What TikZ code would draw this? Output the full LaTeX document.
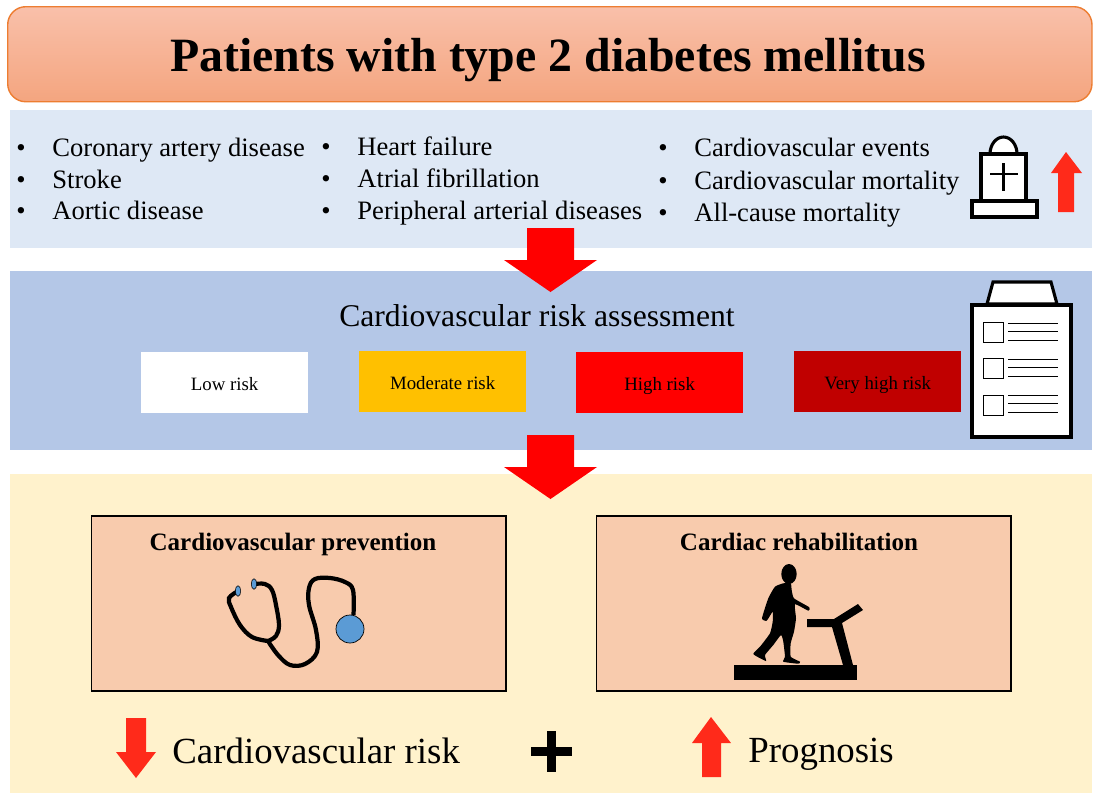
\documentclass[tikz,border=0pt]{standalone}
\usepackage{fontspec}
\setmainfont{Liberation Serif}
\usetikzlibrary{shadings}

\definecolor{titleedge}{HTML}{ED7D31}
\definecolor{titletop}{HTML}{F9C0AA}
\definecolor{titlebottom}{HTML}{F4A57F}
\definecolor{panelone}{HTML}{DEE8F5}
\definecolor{paneltwo}{HTML}{B4C7E7}
\definecolor{panelthree}{HTML}{FFF2CC}
\definecolor{boxpeach}{HTML}{F8CBAD}
\definecolor{arrowred}{HTML}{FF2A1A}
\definecolor{discblue}{HTML}{5B9BD5}
\definecolor{riskamber}{HTML}{FFC000}
\definecolor{riskdark}{HTML}{C00000}

\begin{document}
\begin{tikzpicture}[
            x = 0.025cm, y = -0.025cm, % one unit is one pixel of the reference
            semithick
        ]

        \tikzstyle{panel}=[anchor = north west, inner sep = 0pt]
        \tikzstyle{item}=[anchor = base west, inner sep = 0pt, font = \fontsize{18.9}{22}\selectfont]
        \tikzstyle{riskbox}=[anchor = north west, inner sep = 0pt, minimum width = 4.16cm,
            minimum height = 1.52cm, text height = 13pt, text depth = 2.4pt,
            font = \fontsize{13.4}{15}\selectfont]
        \tikzstyle{carebox}=[panel, draw = black, line width = 1.1pt, fill = boxpeach,
            minimum width = 10.37cm, minimum height = 4.38cm]
        \tikzstyle{caretitle}=[anchor = base, inner sep = 0pt, font = \fontsize{17.8}{20}\selectfont\bfseries]
        \tikzstyle{bigtext}=[anchor = base west, inner sep = 0pt, font = \fontsize{26.2}{30}\selectfont]
        \tikzstyle{blockred}=[fill = red, draw = none]
        \tikzstyle{smallred}=[fill = arrowred, draw = none]

        \useasboundingbox (0,0) rectangle (1100,798);

        % title
        \node[panel, draw = titleedge, line width = 1pt, rounded corners = 0.45cm,
            top color = titletop, bottom color = titlebottom,
            minimum width = 27.1cm, minimum height = 2.375cm] (title) at (7,6) {};
        \node[anchor = base, inner sep = 0pt, font = \fontsize{34}{38}\selectfont\bfseries] (titletext) at (548,71)
            {Patients with type 2 diabetes mellitus};

        % panels
        \node[panel, fill = panelone, minimum width = 27.025cm, minimum height = 3.45cm] (p1) at (10,110) {};
        \node[panel, fill = paneltwo, minimum width = 27.025cm, minimum height = 4.475cm] (p2) at (10,271) {};
        \node[panel, fill = panelthree, minimum width = 27.025cm, minimum height = 7.95cm] (p3) at (10,474) {};

        % first column
        \node[item] (b11) at (16,156) {•};
        \node[item] (b12) at (16,188) {•};
        \node[item] (b13) at (16,219) {•};
        \node[item] (cad) at (52,156) {Coronary artery disease};
        \node[item] (stroke) at (52,188) {Stroke};
        \node[item] (aortic) at (52,219) {Aortic disease};

        % second column
        \node[item] (b21) at (321,155) {•};
        \node[item] (b22) at (321,187) {•};
        \node[item] (b23) at (321,219) {•};
        \node[item] (hf) at (357,155) {Heart failure};
        \node[item] (af) at (357,187) {Atrial fibrillation};
        \node[item] (pad) at (357,219) {Peripheral arterial diseases};

        % third column
        \node[item] (b31) at (658,156) {•};
        \node[item] (b32) at (658,189) {•};
        \node[item] (b33) at (658,221) {•};
        \node[item] (events) at (694,156) {Cardiovascular events};
        \node[item] (cvm) at (694,189) {Cardiovascular mortality};
        \node[item] (acm) at (694,221) {All-cause mortality};

        % gravestone
        \draw[line width = 2.2pt, fill = white] (990,154) arc (180:360:13.5 and 17) -- cycle;
        \draw[line width = 2.4pt, fill = white] (981,154) rectangle (1026,201);
        \draw[line width = 2.4pt, fill = white] (972,201) rectangle (1037,217);
        \draw[line width = 2pt] (1003.5,163) -- (1003.5,191);
        \draw[line width = 2pt] (990,174) -- (1018,174);
        \fill[smallred] (1066,152) -- (1082,173) -- (1074,173) -- (1074,212) -- (1058,212) -- (1058,173) -- (1051,173) -- cycle;

        % block arrows between the panels
        \fill[blockred] (527,228) -- (574,228) -- (574,260) -- (597,260) -- (550.5,292) -- (504,260) -- (527,260) -- cycle;
        \fill[blockred] (527,435) -- (574,435) -- (574,467) -- (597,467) -- (550.5,499) -- (504,467) -- (527,467) -- cycle;

        % risk assessment
        \node[anchor = base, inner sep = 0pt, font = \fontsize{22.5}{26}\selectfont] (assess) at (537,326) {Cardiovascular risk assessment};
        \node[riskbox, fill = white] (low) at (141,352) {Low risk};
        \node[riskbox, fill = riskamber] (moderate) at (359,351) {Moderate risk};
        \node[riskbox, fill = red] (high) at (576,352) {High risk};
        \node[riskbox, fill = riskdark] (vhigh) at (794,351) {Very high risk};

        % clipboard
        \draw[line width = 2.2pt, fill = white] (987,304) -- (993,282) -- (1051,282) -- (1057,304) -- cycle;
        \draw[line width = 3.2pt, fill = white] (972,305) rectangle (1071,437);
        \draw[line width = 0.6pt] (983,322) rectangle (1003,342);
        \draw[line width = 0.6pt] (983,358) rectangle (1003,378);
        \draw[line width = 0.6pt] (983,395) rectangle (1003,415);
        \draw[line width = 0.7pt] (1008,323) -- (1058,323);
        \draw[line width = 0.7pt] (1008,331) -- (1058,331);
        \draw[line width = 0.7pt] (1008,340) -- (1058,340);
        \draw[line width = 0.7pt] (1008,359) -- (1058,359);
        \draw[line width = 0.7pt] (1008,367) -- (1058,367);
        \draw[line width = 0.7pt] (1008,376) -- (1058,376);
        \draw[line width = 0.7pt] (1008,395) -- (1058,395);
        \draw[line width = 0.7pt] (1008,403) -- (1058,403);
        \draw[line width = 0.7pt] (1008,412) -- (1058,412);

        % treatment boxes
        \node[carebox] (prevention) at (90.5,515) {};
        \node[carebox] (rehab) at (595.5,515) {};
        \node[caretitle] (preventiontext) at (293,550) {Cardiovascular prevention};
        \node[caretitle] (rehabtext) at (799,550) {Cardiac rehabilitation};

        % stethoscope
        \draw[line width = 3pt]
            plot[smooth, tension = 0.6] coordinates {(238,591) (229,598) (231,607) (240,625) (252,637) (268,641)};
        \draw[line width = 3pt]
            plot[smooth, tension = 0.6] coordinates {(254,584) (265,584) (272,590) (276,605) (279,625) (276,636) (268,641)};
        \draw[line width = 3pt]
            plot[smooth, tension = 0.6] coordinates {(268,641) (278,655) (290,665) (305,664) (317,652) (316,630) (309,605) (309,588) (315,579) (330,578) (345,582) (353,590) (353.5,615)};
        \draw[fill = discblue, line width = 0.5pt] (350,629) circle (14);
        \draw[fill = discblue, line width = 0.4pt] (238,591) ellipse (2.7 and 5.3);
        \draw[fill = discblue, line width = 0.4pt] (254,584) ellipse (2.7 and 5.3);

        % walker on the treadmill
        \fill (734,665) rectangle (857,680);
        \fill (807,619) -- (834,619) -- (858,604) -- (863,610) -- (842,623) -- (853,665) -- (843,665) -- (832,627) -- (807,627) -- cycle;
        \fill (789,574) ellipse (7.7 and 10);
        \fill plot[smooth cycle, tension = 0.3] coordinates {
            (783.3,583.3) (790.7,583.3) (791.7,590) (794,598.3) (809.3,607.3) (808.3,610.7)
            (795,604.3) (796,618.3) (794,631.7) (790.7,643.3) (790.7,656.7) (800,661.7)
            (798.3,663.7) (783.3,661.7) (785,656.7) (783.3,641.7) (781,635) (773.3,645)
            (765,655) (766,661) (753.3,654) (760,646.7) (770,633.3) (772.7,621.7)
            (772.7,611.7) (766.7,620.7) (762,618.3) (768.3,598.3) (775,586.7)};

        % bottom line
        \fill[smallred] (126,718) -- (146,718) -- (146,752) -- (156,752) -- (136,778) -- (116,752) -- (126,752) -- cycle;
        \node[bigtext] (risktext) at (172,763) {Cardiovascular risk};
        \fill (547,731) rectangle (556,772);
        \fill (531,747) rectangle (572,756);
        \fill[smallred] (711,717) -- (731,743) -- (721,743) -- (721,777) -- (702,777) -- (702,743) -- (692,743) -- cycle;
        \node[bigtext] (prognosis) at (748,762) {Prognosis};
    \end{tikzpicture}
\end{document}
